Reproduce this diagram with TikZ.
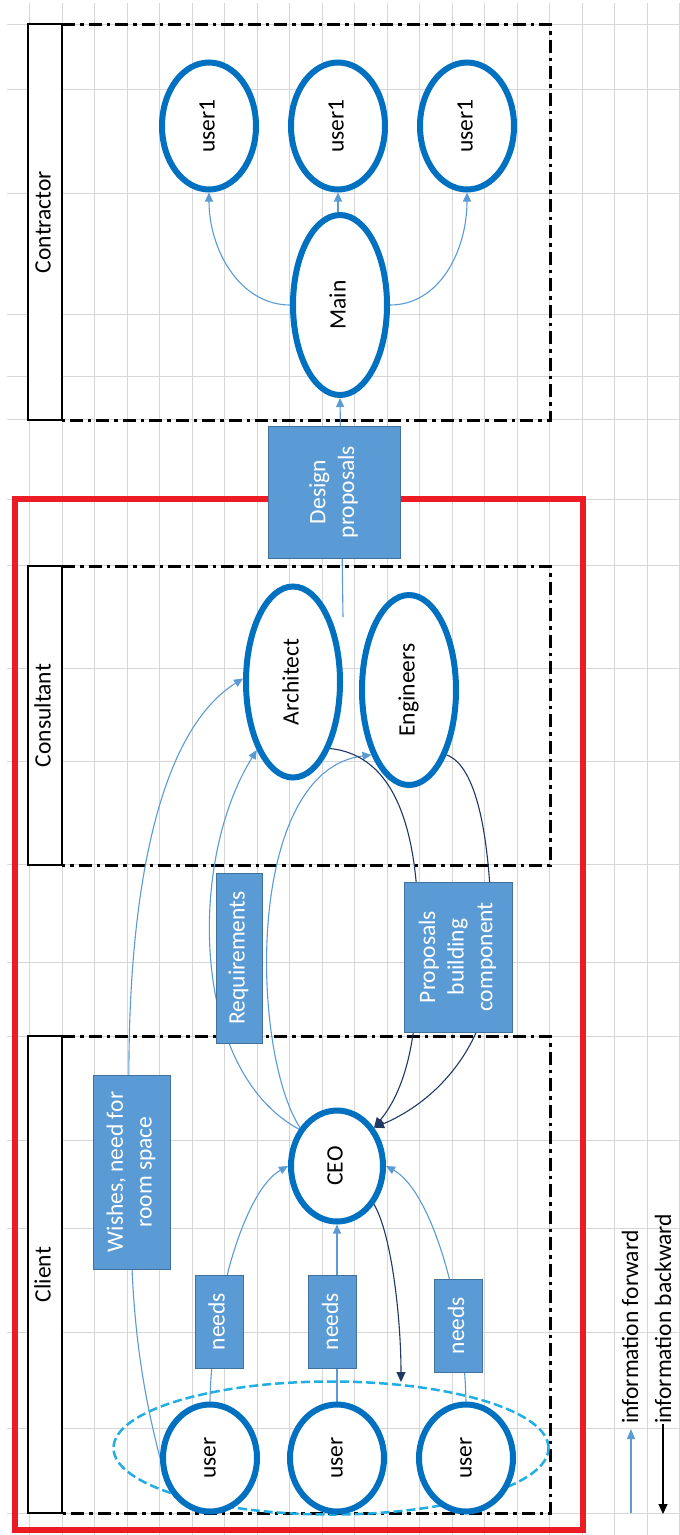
\documentclass[tikz,border=0pt]{standalone}
\usepackage{fontspec}
\setmainfont{Carlito}
\usetikzlibrary{arrows.meta,calc,shapes.geometric}
\definecolor{gridgray}{HTML}{D6D6D6}
\definecolor{ellblue}{HTML}{0070C0}
\definecolor{boxfill}{HTML}{5B9BD5}
\definecolor{boxline}{HTML}{41719C}
\definecolor{fwdblue}{HTML}{5B9BD5}
\definecolor{navy}{HTML}{1F3864}
\definecolor{redline}{HTML}{ED1C24}
\definecolor{grpcyan}{HTML}{20AEE3}
\pgfdeclarelayer{back}
\pgfdeclarelayer{conn}
\pgfsetlayers{back,conn,main}
\newcommand{\rtext}[1]{\rotatebox{90}{\begin{tabular}{@{}c@{}}#1\end{tabular}}}
\begin{document}
\begin{tikzpicture}[x=1pt,y=-1pt,
  every node/.style={font=\fontsize{23.5}{28.7}\selectfont, inner sep=0pt},
  actor/.style={ellipse, draw=ellblue, line width=6pt, fill=white},
  infobox/.style={rectangle, fill=boxfill, draw=boxline, line width=0.8pt, text=white},
  lanebox/.style={rectangle, draw=black, line width=2.2pt, fill=white},
  lanedash/.style={draw=black, line width=3pt, dash pattern=on 13pt off 5pt on 3.5pt off 5pt},
  gridline/.style={draw=gridgray, line width=1pt},
  fwd/.style={draw=fwdblue, line width=1.1pt, -{Triangle[length=9pt,width=8pt]}},
  bwd/.style={draw=navy, line width=1.1pt, -{Triangle[length=10pt,width=9pt]}},
]
\useasboundingbox (0,0) rectangle (680,1535);
\begin{pgfonlayer}{back}
\fill[white] (0,0) rectangle (680,1535);
\foreach \k in {0,...,20} \draw[gridline] ({29.5+32.5*\k},3) -- ({29.5+32.5*\k},1535);
\foreach \yy in {24,89,193,314,376,419,499,565,668,761,864,962,1036,1140,1228,1332,1428,1513}
  \draw[gridline] (7,\yy) -- (680,\yy);
% swimlanes
\draw[lanedash] (62,24) -- (550,24) -- (550,420) -- (62,420);
\draw[lanedash] (62,566) -- (550,566) -- (550,865) -- (62,865);
\draw[lanedash] (62,1036) -- (550,1036) -- (550,1513) -- (62,1513);
% red boundary
\draw[redline, line width=6pt] (15,499) rectangle (583,1530);
\end{pgfonlayer}

% lane labels
\node[lanebox, minimum width=34pt, minimum height=396pt] (labC) at (45,222) {\rtext{Contractor}};
\node[lanebox, minimum width=34pt, minimum height=299pt] (labS) at (45,715.5) {\rtext{Consultant}};
\node[lanebox, minimum width=34pt, minimum height=477pt] (labK) at (45,1274.5) {\rtext{Client}};

% contractor
\node[actor, minimum width=94pt, minimum height=127pt] (ua) at (209,126) {\rtext{user1}};
\node[actor, minimum width=94pt, minimum height=127pt] (ub) at (338,126) {\rtext{user1}};
\node[actor, minimum width=94pt, minimum height=127pt] (uc) at (467,126) {\rtext{user1}};
\node[actor, minimum width=94pt, minimum height=180pt] (main) at (340,305) {\rtext{Main}};

% consultant
\node[actor, minimum width=94pt, minimum height=191pt] (arch) at (293,682) {\rtext{Architect}};
\node[actor, minimum width=94pt, minimum height=190pt] (eng) at (409,690) {\rtext{Engineers}};

% client
\node[ellipse, draw=grpcyan, line width=2.5pt, dash pattern=on 9pt off 4pt, minimum width=435pt, minimum height=133pt] (grp) at (331,1448) {};
\node[actor, minimum width=92pt, minimum height=111pt] (ceo) at (337,1166) {\rtext{CEO}};
\node[actor, minimum width=94pt, minimum height=107pt] (ca) at (210,1458) {\rtext{user}};
\node[actor, minimum width=94pt, minimum height=107pt] (cb) at (337,1458) {\rtext{user}};
\node[actor, minimum width=94pt, minimum height=107pt] (cc) at (466,1458) {\rtext{user}};

% info boxes
\node[infobox, minimum width=132pt, minimum height=132pt] (dp) at (334,492) {\rtext{Design\\proposals}};
\node[infobox, minimum width=46pt, minimum height=170pt] (req) at (239,958) {\rtext{Requirements}};
\node[infobox, minimum width=108pt, minimum height=150pt] (prop) at (458,957) {\rtext{Proposals\\building\\component}};
\node[infobox, minimum width=77pt, minimum height=194pt] (wish) at (131.5,1172) {\rtext{Wishes, need for\\room space}};
\node[infobox, minimum width=48pt, minimum height=93pt] (n1) at (219,1321.5) {\rtext{needs}};
\node[infobox, minimum width=48pt, minimum height=93pt] (n2) at (332.5,1321.5) {\rtext{needs}};
\node[infobox, minimum width=48pt, minimum height=93pt] (n3) at (458.5,1325.5) {\rtext{needs}};

% legend
\node[anchor=south] (lfwd) at (630,1424) {\rotatebox{90}{information forward}};
\node[anchor=south] (lbwd) at (663,1424) {\rotatebox{90}{information backward}};
\coordinate (lf1) at (631,1513);
\coordinate (lf2) at (631,1429);
\coordinate (lb1) at (663,1424);
\coordinate (lb2) at (663,1514);

\coordinate (dpend) at (343,617);
\coordinate (grptop) at (401,1382);

\begin{pgfonlayer}{conn}
% contractor
\draw[fwd] (main.west) .. controls (240,305) and (209,250) .. (ua.south);
\draw[fwd] (ub.south |- main.north) -- (ub.south);
\draw[fwd] (main.east) .. controls (440,305) and (467,250) .. (uc.south);
\draw[fwd] (dpend) -- (main.south);
% client to CEO
\draw[fwd] (ca.north) .. controls (212,1300) and (245,1190) .. (ceo.west);
\draw[fwd] (cb.north) -- (ceo.south);
\draw[fwd] (cc.north) .. controls (464,1300) and (430,1190) .. (ceo.east);
\draw[bwd] (ceo.-46) .. controls (392,1235) and (401,1320) .. (grptop);
% wishes
\draw[fwd] (ca.west) .. controls (140,1380) and (128,1300) .. (wish.center)
  .. controls (120,950) and (145,740) .. (arch.176);
% requirements
\draw[fwd] (ceo.136) .. controls (190,1070) and (188,860) .. (arch.242);
\draw[fwd] (ceo.134) .. controls (250,1050) and (245,770) .. (eng.240);
% proposals
\draw[bwd] (arch.-61) .. controls (395,755) and (422,830) .. ($(prop.center)+(-40,0)$)
  .. controls (418,1040) and (405,1090) .. (ceo.46);
\draw[bwd] (eng.-60) .. controls (475,765) and (492,830) .. ($(prop.center)+(34,0)$)
  .. controls (492,1040) and (440,1100) .. (ceo.46);
% legend arrows
\draw[draw=fwdblue, line width=1.2pt, -{Triangle[length=10pt,width=8pt]}] (lf1) -- (lf2);
\draw[draw=black, line width=1.2pt, -{Triangle[length=10pt,width=9pt]}] (lb1) -- (lb2);
\end{pgfonlayer}
\end{tikzpicture}
\end{document}
